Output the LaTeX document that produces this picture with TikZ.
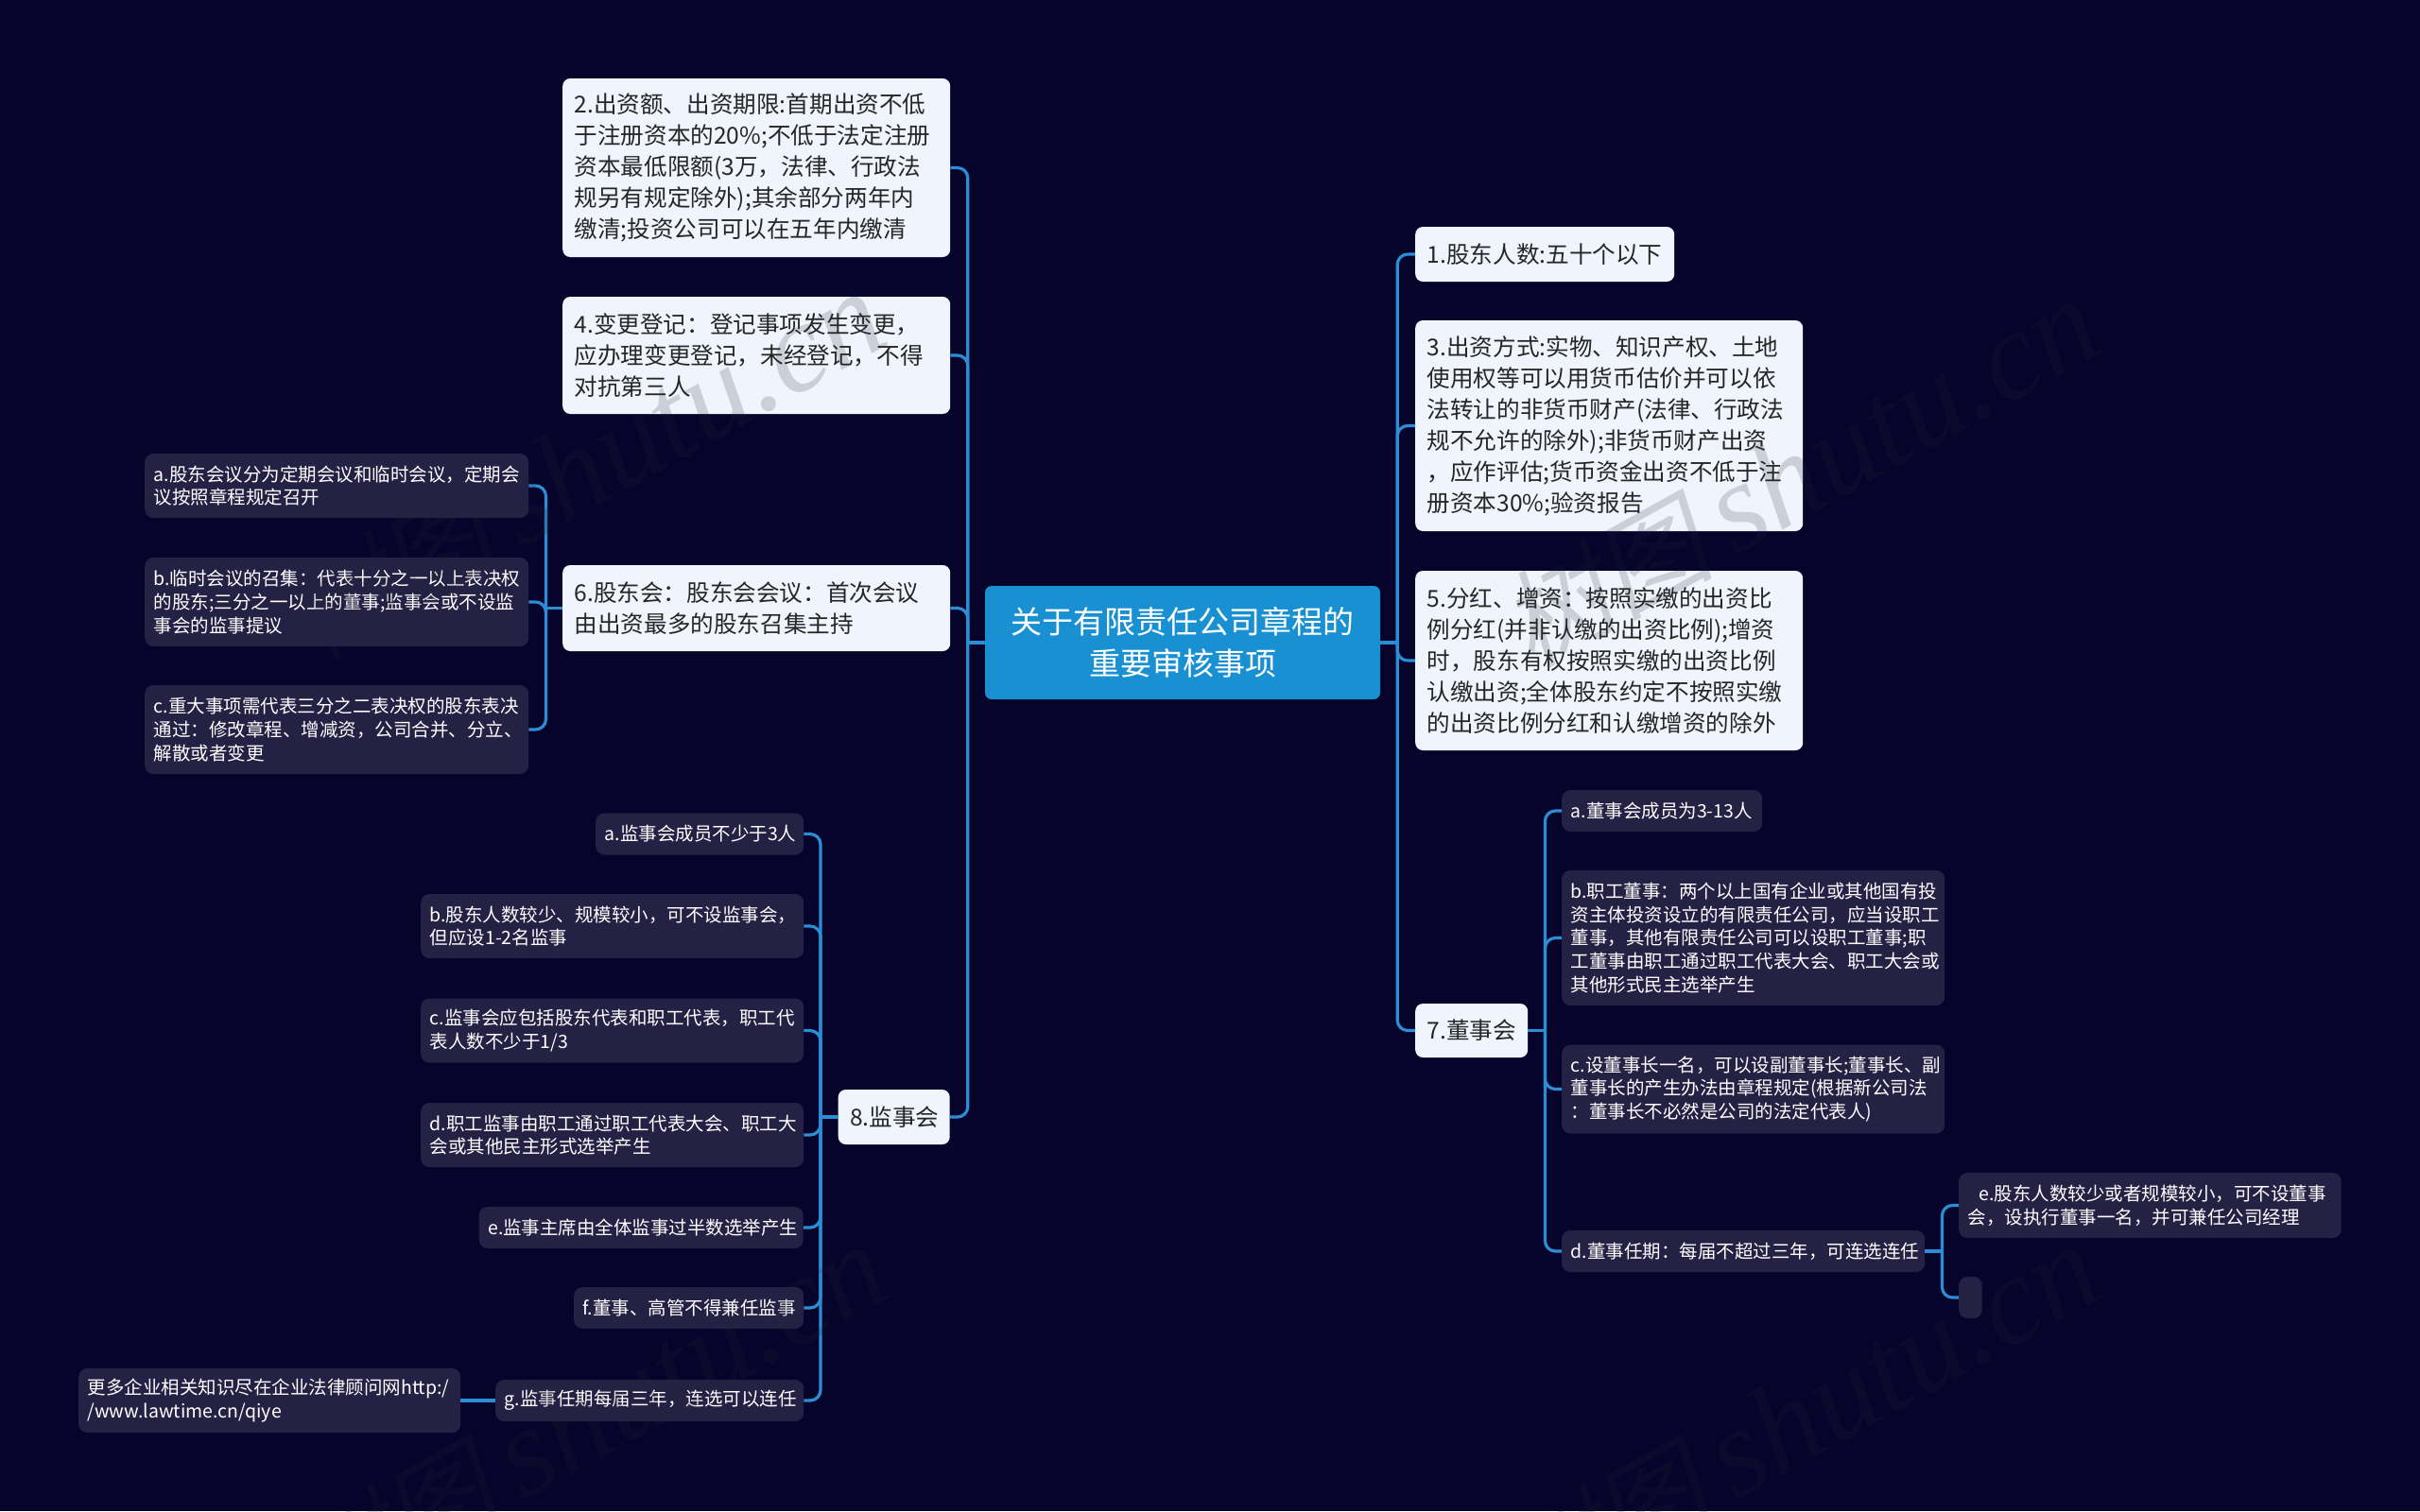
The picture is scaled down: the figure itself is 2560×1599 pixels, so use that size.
\documentclass[tikz,border=0pt]{standalone}
\usepackage{fontspec}
\setmainfont{Noto Sans CJK SC}
\newfontfamily\markfont{Liberation Serif}
\newfontfamily\markcjk{Noto Sans CJK SC}[AutoFakeSlant=0.2]
\definecolor{pagebg}{RGB}{7,4,43}
\definecolor{rootfill}{RGB}{24,144,210}
\definecolor{topicfill}{RGB}{239,244,253}
\definecolor{detailfill}{RGB}{37,33,69}
\definecolor{linkcol}{RGB}{44,140,212}
\definecolor{markcol}{RGB}{40,40,50}
\tikzset{
    rootbox/.style={rectangle, rounded corners=7pt, fill=rootfill, text=white, align=center,
        inner sep=0pt, minimum width=418pt, minimum height=120pt,
        font=\fontsize{33}{44}\selectfont},
    topic/.style={rectangle, rounded corners=8pt, fill=topicfill, text=black!85, align=left,
        anchor=west, inner xsep=12.5pt, inner ysep=0pt, font=\fontsize{24.6}{33}\selectfont},
    detail/.style={rectangle, rounded corners=9pt, fill=detailfill, text=white, align=left,
        anchor=west, inner xsep=9.5pt, inner ysep=0pt, font=\fontsize{19.5}{24.7}\selectfont},
    link/.style={draw=linkcol, line width=3.2pt, rounded corners=11pt},
    wmark/.style={text=markcol, opacity=0.18, anchor=base east, rotate=29, inner sep=0pt,
        font=\fontsize{134}{134}\selectfont},
}
\newcommand{\marktext}{{\fontsize{112}{112}\markcjk\itshape 树图}\hspace{22pt}{\markfont\itshape shutu.cn}}

\begin{document}
\begin{tikzpicture}[x=1pt,y=-1pt]

    % Page
    \useasboundingbox (0,0) rectangle (2560,1599);
    \fill[pagebg] (0,0) rectangle (2560,1599);

    % Central node
    \node[rootbox] (root) at (1251,680) {关于有限责任公司章程的\\重要审核事项};

    % Left topics
    \node[topic, minimum height=189pt, text width=385pt] (top2) at (595,177.5) {2.出资额、出资期限:首期出资不低\\于注册资本的20\%;不低于法定注册\\资本最低限额(3万，法律、行政法\\规另有规定除外);其余部分两年内\\缴清;投资公司可以在五年内缴清};
    \node[topic, minimum height=124pt, text width=385pt] (top4) at (595,376) {4.变更登记：登记事项发生变更，\\应办理变更登记，未经登记，不得\\对抗第三人};
    \node[topic, minimum height=91pt, text width=385pt] (top6) at (595,643.5) {6.股东会：股东会会议：首次会议\\由出资最多的股东召集主持};
    \node[topic, minimum height=58pt, text width=93pt] (top8) at (886.5,1182) {8.监事会};

    % Right topics
    \node[topic, minimum height=58pt, text width=249pt] (top1) at (1497,269) {1.股东人数:五十个以下};
    \node[topic, minimum height=223pt, text width=385pt] (top3) at (1497,450.5) {3.出资方式:实物、知识产权、土地\\使用权等可以用货币估价并可以依\\法转让的非货币财产(法律、行政法\\规不允许的除外);非货币财产出资\\，应作评估;货币资金出资不低于注\\册资本30\%;验资报告};
    \node[topic, minimum height=190pt, text width=385pt] (top5) at (1497,699) {5.分红、增资：按照实缴的出资比\\例分红(并非认缴的出资比例);增资\\时，股东有权按照实缴的出资比例\\认缴出资;全体股东约定不按照实缴\\的出资比例分红和认缴增资的除外};
    \node[topic, minimum height=57pt, text width=94pt] (top7) at (1497,1090.5) {7.董事会};

    % Details of 6
    \node[detail, minimum height=68pt, text width=387pt] (six1) at (153,514) {a.股东会议分为定期会议和临时会议，定期会\\议按照章程规定召开};
    \node[detail, minimum height=94pt, text width=387pt] (six2) at (153,637) {b.临时会议的召集：代表十分之一以上表决权\\的股东;三分之一以上的董事;监事会或不设监\\事会的监事提议};
    \node[detail, minimum height=94pt, text width=387pt] (six3) at (153,772) {c.重大事项需代表三分之二表决权的股东表决\\通过：修改章程、增减资，公司合并、分立、\\解散或者变更};

    % Details of 8
    \node[detail, minimum height=44pt, text width=201pt] (eight1) at (630,882.5) {a.监事会成员不少于3人};
    \node[detail, minimum height=68pt, text width=386pt] (eight2) at (445,980) {b.股东人数较少、规模较小，可不设监事会，\\但应设1-2名监事};
    \node[detail, minimum height=68pt, text width=386pt] (eight3) at (445,1090.5) {c.监事会应包括股东代表和职工代表，职工代\\表人数不少于1/3};
    \node[detail, minimum height=68pt, text width=386pt] (eight4) at (445,1201) {d.职工监事由职工通过职工代表大会、职工大\\会或其他民主形式选举产生};
    \node[detail, minimum height=44pt, text width=324pt] (eight5) at (506.5,1299) {e.监事主席由全体监事过半数选举产生};
    \node[detail, minimum height=44pt, text width=224pt] (eight6) at (607,1384) {f.董事、高管不得兼任监事};
    \node[detail, minimum height=44pt, text width=307pt] (eight7) at (524,1482) {g.监事任期每届三年，连选可以连任};
    \node[detail, minimum height=68pt, text width=385pt] (more) at (83,1482) {更多企业相关知识尽在企业法律顾问网http:/\\/www.lawtime.cn/qiye};

    % Details of 7
    \node[detail, minimum height=44pt, text width=193pt] (seven1) at (1652,858) {a.董事会成员为3-13人};
    \node[detail, minimum height=143pt, text width=386pt] (seven2) at (1652,992.5) {b.职工董事：两个以上国有企业或其他国有投\\资主体投资设立的有限责任公司，应当设职工\\董事，其他有限责任公司可以设职工董事;职\\工董事由职工通过职工代表大会、职工大会或\\其他形式民主选举产生};
    \node[detail, minimum height=94pt, text width=386pt] (seven3) at (1652,1152.5) {c.设董事长一名，可以设副董事长;董事长、副\\董事长的产生办法由章程规定(根据新公司法\\：董事长不必然是公司的法定代表人)};
    \node[detail, minimum height=44pt, text width=365pt] (seven4) at (1652,1324) {d.董事任期：每届不超过三年，可连选连任};
    \node[detail, minimum height=69pt, text width=385.5pt] (seven5) at (2072,1275.5) {\hspace*{12pt}e.股东人数较少或者规模较小，可不设董事\\会，设执行董事一名，并可兼任公司经理};
    \node[detail, minimum height=44pt, text width=24.5pt, inner xsep=0pt] (blank) at (2072,1373) {};

    % Trunks
    \path (root.west) ++(-18,0) coordinate (trunkl);
    \path (root.east) ++(18,0) coordinate (trunkr);
    \path (top6.west) ++(-17.5,0) coordinate (trunksix);
    \path (top8.west) ++(-18.5,0) coordinate (trunkeight);
    \path (top7.east) ++(18,0) coordinate (trunkseven);
    \path (seven4.east) ++(18,0) coordinate (trunkfour);

    % Root links
    \draw[link] (root.west) -- (trunkl);
    \draw[link] (root.east) -- (trunkr);
    \draw[link] (trunkl) |- (top2.east);
    \draw[link] (trunkl) |- (top4.east);
    \draw[link] (trunkl) |- (top6.east);
    \draw[link] (trunkl) |- (top8.east);
    \draw[link] (trunkr) |- (top1.west);
    \draw[link] (trunkr) |- (top3.west);
    \draw[link] (trunkr) |- (top5.west);
    \draw[link] (trunkr) |- (top7.west);

    % Links of 6
    \draw[link] (top6.west) -- (trunksix);
    \draw[link] (trunksix) |- (six1.east);
    \draw[link] (trunksix) |- (six2.east);
    \draw[link] (trunksix) |- (six3.east);

    % Links of 8
    \draw[link] (top8.west) -- (trunkeight);
    \draw[link] (trunkeight) |- (eight1.east);
    \draw[link] (trunkeight) |- (eight2.east);
    \draw[link] (trunkeight) |- (eight3.east);
    \draw[link] (trunkeight) |- (eight4.east);
    \draw[link] (trunkeight) |- (eight5.east);
    \draw[link] (trunkeight) |- (eight6.east);
    \draw[link] (trunkeight) |- (eight7.east);
    \draw[link] (eight7.west) -- (more.east);

    % Links of 7
    \draw[link] (top7.east) -- (trunkseven);
    \draw[link] (trunkseven) |- (seven1.west);
    \draw[link] (trunkseven) |- (seven2.west);
    \draw[link] (trunkseven) |- (seven3.west);
    \draw[link] (trunkseven) |- (seven4.west);
    \draw[link] (seven4.east) -- (trunkfour);
    \draw[link] (trunkfour) |- (seven5.west);
    \draw[link] (trunkfour) |- (blank.west);

    % Watermark
    \node[wmark] (mark1) at (945,362) {\marktext};
    \node[wmark] (mark2) at (2230,370) {\marktext};
    \node[wmark] (mark3) at (948,1370) {\marktext};
    \node[wmark] (mark4) at (2230,1370) {\marktext};
\end{tikzpicture}
\end{document}
